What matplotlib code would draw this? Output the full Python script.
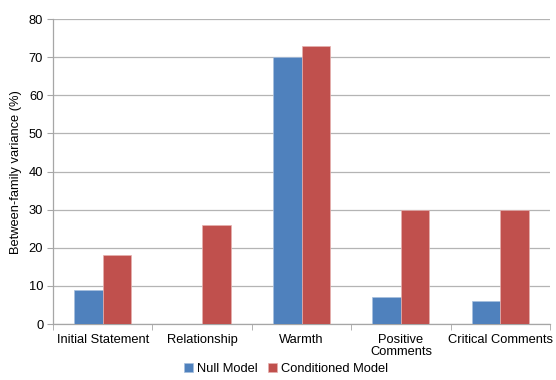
import matplotlib
matplotlib.use("Agg")
import matplotlib.pyplot as plt
import numpy as np

categories = ["Initial Statement", "Relationship", "Warmth", "Positive\nComments", "Critical Comments"]
null_model = [9, 0, 70, 7, 6]
conditioned_model = [18, 26, 73, 30, 30]
series_names = ["Null Model", "Conditioned Model"]
yticks = [0, 10, 20, 30, 40, 50, 60, 70, 80]

plt.rcParams['font.family'] = ['Liberation Sans', 'DejaVu Sans']
fs = 9.3

fig = plt.figure(figsize=(5.56, 3.8), dpi=100)
ax = fig.add_axes([0.0953, 0.147, 0.894, 0.803])

x = np.arange(len(categories))
w = 0.287
ax.bar(x - w/2, null_model, w, color="#4F81BD", edgecolor="#A7BFDE", linewidth=0.5, label=series_names[0], zorder=3)
ax.bar(x + w/2, conditioned_model, w, color="#C0504D", edgecolor="#E6B0AE", linewidth=0.5, label=series_names[1], zorder=3)

ax.set_xlim(-0.5, len(categories) - 0.5)
ax.set_ylim(0, 80)
ax.set_yticks(yticks)
ax.set_yticklabels([str(t) for t in yticks], fontsize=fs)
ax.set_xticks(x)
ax.set_xticklabels(categories, fontsize=fs, linespacing=1.0)
ax.tick_params(axis='x', length=0, pad=7)
ax.set_xticks(np.arange(len(categories) + 1) - 0.5, minor=True)
ax.tick_params(axis='x', which='minor', length=4, color="#A6A6A6", direction='out')
ax.tick_params(axis='y', length=4, color="#A6A6A6", direction='out', pad=3)

ax.grid(axis='y', color="#B4B4B4", linewidth=0.9, zorder=0)
for s in ["top", "right"]:
    ax.spines[s].set_visible(False)
for s in ["left", "bottom"]:
    ax.spines[s].set_color("#A6A6A6")
    ax.spines[s].set_linewidth(0.9)

ax.set_ylabel("Between-family variance (%)", fontsize=fs, labelpad=5)

fig.legend(loc="lower center", bbox_to_anchor=(0.515, -0.018), ncol=2, frameon=False,
           fontsize=fs, handlelength=0.7, handleheight=0.7, handletextpad=0.3, columnspacing=0.8)

fig.savefig("out.png", dpi=100)
